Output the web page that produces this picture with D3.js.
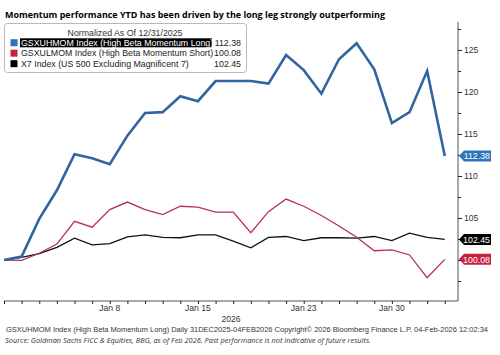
<!DOCTYPE html>
<html><head><meta charset="utf-8">
<script src="https://cdn.jsdelivr.net/npm/d3@7/dist/d3.min.js"></script>
<style>
html,body{margin:0;padding:0;background:#fff;}
svg{display:block;}
</style></head><body>
<svg id="c" width="500" height="355"></svg>
<script>
const dates = ["2025-12-31","2026-01-01","2026-01-02","2026-01-05","2026-01-06","2026-01-07","2026-01-08","2026-01-09","2026-01-12","2026-01-13","2026-01-14","2026-01-15","2026-01-16","2026-01-19","2026-01-20","2026-01-21","2026-01-22","2026-01-23","2026-01-26","2026-01-27","2026-01-28","2026-01-29","2026-01-30","2026-02-02","2026-02-03","2026-02-04"];
const longLeg  = [100.0,100.4,104.9,108.3,112.6,112.1,111.4,114.8,117.5,117.6,119.5,118.9,121.3,121.3,121.3,121.0,124.4,122.6,119.8,123.9,125.8,122.7,116.3,117.6,122.5,112.38];
const shortLeg = [100.0,99.95,100.8,101.9,104.6,103.9,106.0,106.9,106.0,105.4,106.4,106.3,105.7,105.7,103.25,105.75,107.25,106.4,105.3,104.05,102.7,101.1,101.2,100.6,97.9,100.08];
const x7       = [100.0,100.3,100.75,101.5,102.6,101.8,101.95,102.75,103.0,102.7,102.65,103.0,103.0,102.25,101.45,102.7,102.8,102.3,102.65,102.65,102.6,102.8,102.3,103.2,102.7,102.45];
const seriesNames = ["GSXUHMOM Index (High Beta Momentum Long)","GSXULMOM Index (High Beta Momentum Short)","X7 Index (US 500 Excluding Magnificent 7)"];
const lastValues = ["112.38","100.08","102.45"];
const dateLabels = [{d:"2026-01-08",t:"Jan 8"},{d:"2026-01-15",t:"Jan 15"},{d:"2026-01-23",t:"Jan 23"},{d:"2026-01-30",t:"Jan 30"}];
const yMajor = [100,105,110,115,120,125];
const yMinor = [97.5,102.5,107.5,112.5,117.5,122.5,127.5];

const svg = d3.select("#c");
const colors = ["#2f65a0","#b8304e","#111111"];
const badgeColors = ["#2f74b8","#c8203f","#000000"];
const widths = [2.6,1.3,1.3];
const data = [longLeg, shortLeg, x7];

const x = d3.scaleLinear().domain([0, 25.75]).range([4, 458]);
const y = d3.scaleLinear().domain([95.12, 128.33]).range([301, 22]);
const idx = d => dates.indexOf(d);

// Title
svg.append("text").attr("x",5).attr("y",18).attr("font-family","Open Sans, sans-serif")
  .attr("font-weight","bold").attr("font-size",9.2).attr("fill","#000")
  .attr("textLength",380).attr("lengthAdjust","spacingAndGlyphs")
  .text("Momentum performance YTD has been driven by the long leg strongly outperforming");

// axes
const axisCol = "#555";
svg.append("line").attr("x1",x(25.75)).attr("x2",x(25.75)).attr("y1",y(128.33)).attr("y2",y(95.12)).attr("stroke",axisCol).attr("stroke-width",1);
svg.append("line").attr("x1",x(0)).attr("x2",x(25.75)).attr("y1",y(95.12)).attr("y2",y(95.12)).attr("stroke",axisCol).attr("stroke-width",1);

const yAxisMajor = d3.axisRight(y).tickValues(yMajor).tickSize(4).tickPadding(2).tickFormat(d => d === 100 ? "" : d);
const gy = svg.append("g").attr("transform",`translate(${x(25.75)},0)`).call(yAxisMajor);
gy.select(".domain").remove();
gy.selectAll("text").attr("font-family","Liberation Sans, Arial, sans-serif").attr("font-size",8.6).attr("fill","#333");
gy.selectAll("line").attr("stroke","#222");
const gym = svg.append("g").attr("transform",`translate(${x(25.75)},0)`).call(d3.axisRight(y).tickValues(yMinor).tickSize(3).tickFormat(""));
gym.select(".domain").remove();
gym.selectAll("line").attr("stroke","#222");

const gx = svg.append("g").attr("transform",`translate(0,${y(95.12)})`)
  .call(d3.axisBottom(x).tickValues(d3.range(dates.length)).tickSize(3).tickFormat(""));
gx.select(".domain").remove();
gx.selectAll("line").attr("stroke","#222");

svg.selectAll(".xl").data(dateLabels).enter().append("text")
  .attr("x",d=>x(idx(d.d))).attr("y",311).attr("text-anchor","middle")
  .attr("font-family","Liberation Sans, Arial, sans-serif").attr("font-size",8.6).attr("fill","#333").text(d=>d.t);
svg.append("text").attr("x",231).attr("y",322).attr("text-anchor","middle")
  .attr("font-family","Liberation Sans, Arial, sans-serif").attr("font-size",8.6).attr("fill","#333").text("2026");

// lines
const line = d3.line().x((d,i)=>x(i)).y(d=>y(d));
[2,1,0].forEach(k=>{
  svg.append("path").datum(data[k]).attr("d",line).attr("fill","none")
    .attr("stroke",colors[k]).attr("stroke-width",widths[k]).attr("stroke-linejoin","miter");
});

// badges
[0,2,1].forEach(k=>{
  const v = data[k][data[k].length-1];
  const cy = y(v), x0 = x(25.75)+1, h = 11, w = 32;
  svg.append("path").attr("d",`M${x0},${cy} L${x0+5},${cy-h/2} L${x0+w},${cy-h/2} L${x0+w},${cy+h/2} L${x0+5},${cy+h/2} Z`)
    .attr("fill",badgeColors[k]);
  svg.append("text").attr("x",x0+w-1).attr("y",cy+3.2).attr("text-anchor","end")
    .attr("font-family","Liberation Sans, Arial, sans-serif").attr("font-size",8.8).attr("fill","#fff").text(lastValues[k]);
});

// legend
const lg = svg.append("g");
lg.append("rect").attr("x",4.5).attr("y",23.5).attr("width",242).attr("height",49).attr("rx",3)
  .attr("fill","#fff").attr("stroke","#b9b9b9").attr("stroke-width",1);
const lf = "Liberation Sans, Arial, sans-serif";
lg.append("text").attr("x",125).attr("y",35.5).attr("text-anchor","middle").attr("font-family",lf)
  .attr("font-size",8.8).attr("fill","#333").text("Normalized As Of 12/31/2025");
lg.append("rect").attr("x",20).attr("y",38.3).attr("width",192).attr("height",9).attr("fill","#000");
seriesNames.forEach((s,i)=>{
  const by = 45.7 + i*10.5;
  lg.append("rect").attr("x",10.5).attr("y",by-6.5).attr("width",7).attr("height",7).attr("fill",badgeColors[i]);
  lg.append("text").attr("x",21).attr("y",by).attr("font-family",lf).attr("font-size",8.8)
    .attr("fill", i===0 ? "#fff" : "#222").text(s);
  lg.append("text").attr("x",241).attr("y",by).attr("text-anchor","end").attr("font-family",lf).attr("font-size",8.8)
    .attr("fill","#222").text(lastValues[i]);
});

// footer
svg.append("text").attr("x",6).attr("y",331.5).attr("font-family",lf).attr("font-size",7.6).attr("fill","#333")
  .attr("textLength",482).attr("lengthAdjust","spacingAndGlyphs")
  .text("GSXUHMOM Index (High Beta Momentum Long) Daily 31DEC2025-04FEB2026 Copyright\u00A9 2026 Bloomberg Finance L.P. 04-Feb-2026 12:02:34");
svg.append("text").attr("x",5).attr("y",343).attr("font-family","Open Sans, sans-serif").attr("font-style","italic").attr("font-size",7.4).attr("fill","#333")
  .text("Source: Goldman Sachs FICC & Equities, BBG, as of Feb 2026. Past performance is not indicative of future results.");
</script>
</body></html>
